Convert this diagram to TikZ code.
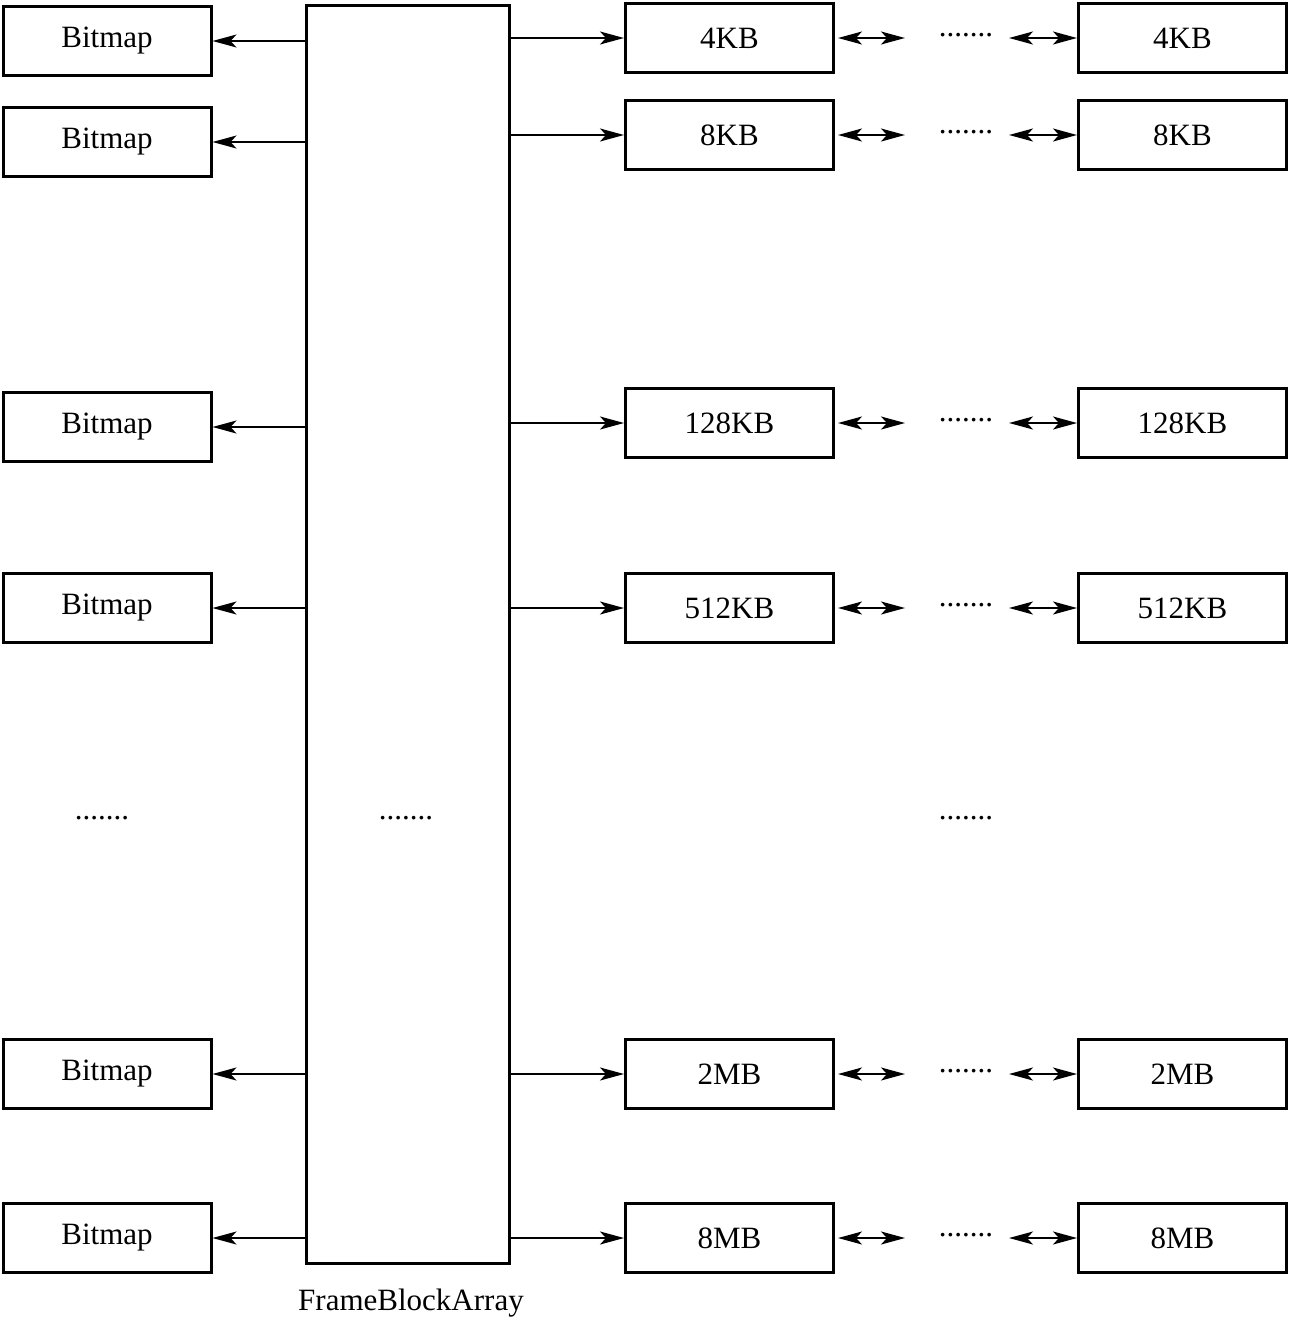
\documentclass[tikz,border=0pt]{standalone}
\usepackage{fontspec}
\setmainfont{Liberation Serif}
\usetikzlibrary{arrows.meta}
\begin{document}
\begin{tikzpicture}[x=1pt,y=-1pt,
  box/.style={draw,line width=3pt,minimum width=208pt,minimum height=69pt,inner sep=0pt,font=\fontsize{31}{31}\selectfont},
  lab/.style={font=\fontsize{31}{31}\selectfont,inner sep=0pt},
  tip/.style={Stealth[length=24pt,width=13pt,inset=6pt]},
  conn/.style={line width=1.8pt,-{Stealth[length=24pt,width=13pt,inset=6pt]}},
  dconn/.style={line width=1.8pt,{Stealth[length=24pt,width=13pt,inset=6pt]}-{Stealth[length=24pt,width=13pt,inset=6pt]}}]
\useasboundingbox (0,0) rectangle (1290,1317);
\node[box,minimum width=203pt,minimum height=1258pt] (C) at (407.5,634) {};
\node[lab] (Cd) at (406,818) {.......};
\node[lab,anchor=base] (CL) at (411,1310) {FrameBlockArray};
% left bitmaps
\foreach \i/\y in {1/41,2/142,3/427,4/608,5/1074,6/1238}{
  \node[box] (L\i) at (107,\y) {Bitmap};
  \draw[conn] (C.west |- L\i.east) -- (L\i.east);
}
\node[lab] (Ld) at (102,818) {.......};
\node[lab] (Rd) at (966,818) {.......};
% right chains
\foreach \i/\y/\t in {1/38/4KB,2/135/8KB,3/423/128KB,4/608/512KB,5/1074/2MB,6/1238/8MB}{
  \node[box] (R\i) at (729.5,\y) {\t};
  \node[box] (F\i) at (1182.5,\y) {\t};
  \draw[conn] (C.east |- R\i.west) -- (R\i.west);
  \coordinate (A\i) at ([xshift=3pt]R\i.east);
  \coordinate (B\i) at ([xshift=70pt]R\i.east);
  \draw[dconn] (A\i) -- (B\i);
  \coordinate (E\i) at ([xshift=-68pt]F\i.west);
  \draw[dconn] (E\i) -- (F\i.west);
  \node[lab] (D\i) at (966,\y-3) {.......};
}
\end{tikzpicture}
\end{document}
